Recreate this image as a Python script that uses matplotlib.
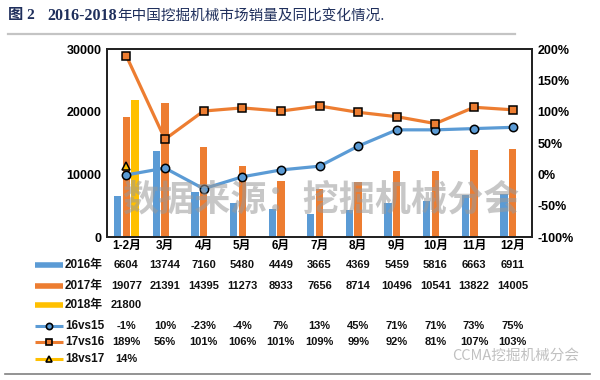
import matplotlib
matplotlib.use("Agg")
import matplotlib.pyplot as plt
from matplotlib.lines import Line2D
import numpy as np

plt.rcParams['font.family'] = ['Liberation Sans', 'Noto Sans CJK SC', 'DejaVu Sans']

categories = ['1-2月', '3月', '4月', '5月', '6月', '7月', '8月', '9月', '10月', '11月', '12月']
sales_2016 = [6604, 13744, 7160, 5480, 4449, 3665, 4369, 5459, 5816, 6663, 6911]
sales_2017 = [19077, 21391, 14395, 11273, 8933, 7656, 8714, 10496, 10541, 13822, 14005]
sales_2018 = [21800]
yoy_16vs15 = [-1, 10, -23, -4, 7, 13, 45, 71, 71, 73, 75]
yoy_17vs16 = [189, 56, 101, 106, 101, 109, 99, 92, 81, 107, 103]
yoy_18vs17 = [14]

BLUE = '#5B9BD5'
ORANGE = '#ED7D31'
YELLOW = '#FFC000'

W, H = 600, 380
fig = plt.figure(figsize=(6, 3.8), dpi=100)

def fx(px):
    return px / W

def fy(py):
    return 1 - py / H

ax = fig.add_axes([fx(107), fy(237), fx(532) - fx(107), fy(49) - fy(237)])
x = np.arange(len(categories))
bw = 0.19
off = 0.225
ax.bar(x - off, sales_2016, bw, color=BLUE, zorder=2)
ax.bar(x, sales_2017, bw, color=ORANGE, zorder=2)
ax.bar(x[:len(sales_2018)] + off, sales_2018, bw, color=YELLOW, zorder=2)
ax.set_xlim(-0.5, len(categories) - 0.5)
ax.set_ylim(0, 30000)
ax.set_yticks([0, 10000, 20000, 30000])
ax.set_xticks(x)
ax.set_xticklabels(categories, fontsize=8.5, fontweight='bold')
ax.tick_params(axis='x', length=0, pad=2)
ax.tick_params(axis='y', length=0, pad=4)
for lab in ax.get_yticklabels():
    lab.set_fontsize(9)
    lab.set_fontweight('bold')
for s in ax.spines.values():
    s.set_linewidth(1.3)
    s.set_color('#222222')

ax2 = ax.twinx()
ax2.plot(x, yoy_16vs15, color=BLUE, lw=2.3, marker='o', ms=6,
         mfc=BLUE, mec='black', mew=1.1, zorder=3)
ax2.plot(x, yoy_17vs16, color=ORANGE, lw=2.3, marker='s', ms=5.5,
         mfc=ORANGE, mec='black', mew=1.1, zorder=3)
ax2.plot(x[:len(yoy_18vs17)], yoy_18vs17, color=YELLOW, lw=2.3, marker='^', ms=5.5,
         mfc=YELLOW, mec='black', mew=1.1, zorder=3, ls='none')
ax2.set_ylim(-100, 200)
ax2.set_yticks([-100, -50, 0, 50, 100, 150, 200])
ax2.set_yticklabels([f'{v}%' for v in [-100, -50, 0, 50, 100, 150, 200]],
                    fontsize=9, fontweight='bold')
ax2.tick_params(axis='y', length=0, pad=4)
for s in ax2.spines.values():
    s.set_linewidth(1.3)
    s.set_color('#222222')

# data table
rows = [
    ('2016年', sales_2016, 'bar', BLUE, None, 265),
    ('2017年', sales_2017, 'bar', ORANGE, None, 286),
    ('2018年', sales_2018, 'bar', YELLOW, None, 305),
    ('16vs15', yoy_16vs15, 'line', BLUE, 'o', 326),
    ('17vs16', yoy_17vs16, 'line', ORANGE, 's', 342),
    ('18vs17', yoy_18vs17, 'line', YELLOW, '^', 359),
]
trans = matplotlib.transforms.blended_transform_factory(ax.transData, fig.transFigure)
for label, vals, kind, color, mk, ypx in rows:
    if kind == 'bar':
        fig.add_artist(Line2D([fx(35), fx(63)], [fy(ypx), fy(ypx)], color=color,
                              lw=4, solid_capstyle='butt', transform=fig.transFigure))
    else:
        fig.add_artist(Line2D([fx(35), fx(63)], [fy(ypx), fy(ypx)], color=color,
                              lw=2.2, solid_capstyle='butt', transform=fig.transFigure))
        fig.add_artist(Line2D([fx(49)], [fy(ypx)], marker=mk, ms=4.5, mfc=color,
                              mec='black', mew=1.2, ls='none', transform=fig.transFigure))
    fig.text(fx(65), fy(ypx), label, fontsize=8.5, fontweight='bold',
             va='center', ha='left', color='#111111')
    for i, v in enumerate(vals):
        txt = f'{v}%' if kind == 'line' else f'{v}'
        fig.text(i, fy(ypx), txt, transform=trans, fontsize=8,
                 fontweight='bold', ha='center', va='center', color='#111111')

# title
TCOL = '#1F2F5C'
fig.text(fx(8), fy(16), '图 2', fontsize=11, fontweight='bold', color=TCOL,
         family=['Liberation Serif', 'Noto Sans CJK SC'], va='center')
fig.text(fx(47), fy(16), '2016-2018', fontsize=11.5, fontweight='bold', color=TCOL,
         family=['Liberation Serif', 'Noto Sans CJK SC'], va='center')
fig.text(fx(117), fy(16), '年中国挖掘机械市场销量及同比变化情况.', fontsize=10.5,
         color=TCOL, family=['Noto Sans CJK SC', 'DejaVu Sans'], va='center')
fig.add_artist(Line2D([fx(8), fx(515)], [fy(34), fy(34)], color='#c4c4c4', lw=1.6,
                      transform=fig.transFigure))
fig.add_artist(Line2D([fx(5), fx(590)], [fy(374), fy(374)], color='#808080', lw=1.2,
                      transform=fig.transFigure))

# watermarks
fig.text(fx(122), fy(200), '数据来源：挖掘机械分会', fontsize=26, fontweight='bold',
         color='#9a9a9a', alpha=0.55, va='center', ha='left',
         family=['Noto Sans CJK SC', 'DejaVu Sans'], zorder=10)
fig.text(fx(452), fy(356), 'CCMA挖掘机械分会', fontsize=10.5, color='#c0c0c0',
         va='center', ha='left', family=['Noto Sans CJK SC', 'DejaVu Sans'], zorder=10)

fig.savefig('out.png', dpi=100)
